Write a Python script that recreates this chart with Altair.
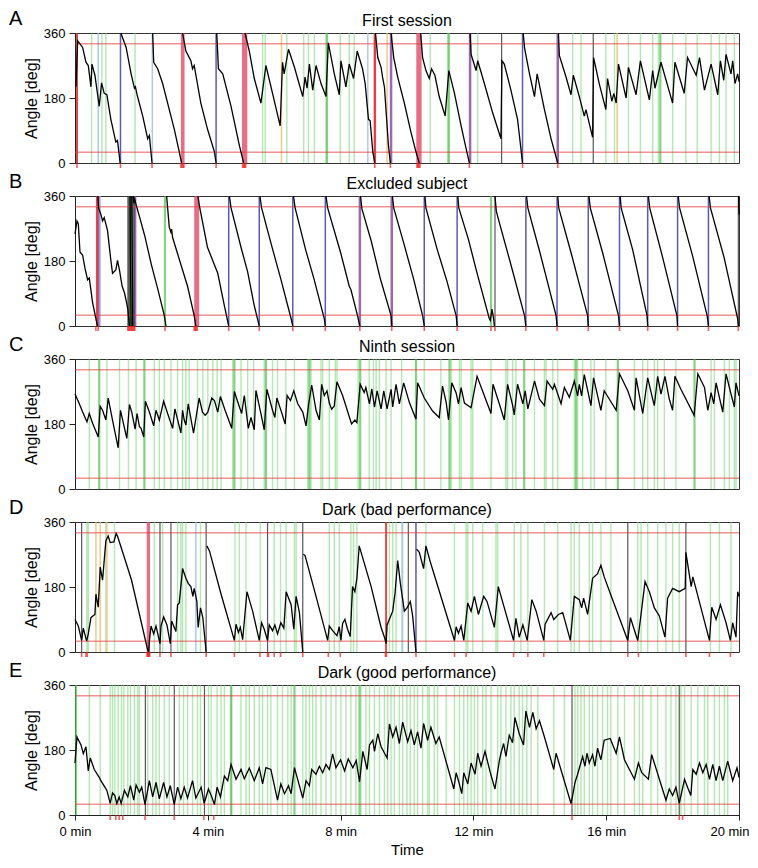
import altair as alt
import pandas as pd

FONT = "Liberation Sans"
W, H = 664, 130
TICKS_MIN = [0, 4, 8, 12, 16, 20]
REF_LEVELS = [30, 330]

# ---------------- Panel A : First session ----------------
A_trace = [
    [(0.03, 211), (0.08, 338), (0.23, 320), (0.33, 279), (0.40, 270), (0.48, 211), (0.51, 274), (0.60, 243),
     (0.73, 157), (0.80, 222), (0.88, 193), (0.96, 189), (1.08, 121), (1.23, 58), (1.28, 62), (1.36, 0)],
    [(1.38, 360), (1.54, 320), (1.69, 247), (1.79, 207), (1.82, 211), (1.87, 189), (2.04, 130), (2.19, 67),
     (2.24, 76), (2.32, 0)],
    [(2.34, 360), (2.37, 279), (2.49, 261), (2.64, 220), (2.79, 166), (2.99, 94), (3.14, 31), (3.21, 0)],
    [(3.24, 360), (3.34, 310), (3.49, 283), (3.54, 261), (3.59, 270), (3.79, 166), (3.99, 94), (4.20, 31), (4.25, 0)],
    [(4.27, 360), (4.32, 261), (4.45, 247), (4.70, 157), (4.95, 49), (5.08, 0)],
    [(5.12, 360), (5.25, 310), (5.40, 234), (5.60, 166), (5.75, 270), (5.95, 193), (6.18, 103), (6.25, 279),
     (6.30, 247), (6.43, 315), (6.61, 265), (6.86, 184), (6.93, 238), (6.99, 207), (7.06, 274), (7.16, 202),
     (7.26, 270), (7.41, 220), (7.56, 184), (7.63, 333), (7.81, 247), (7.96, 189), (8.01, 283), (8.16, 211),
     (8.26, 274), (8.39, 234), (8.50, 310), (8.66, 261), (8.74, 220), (8.84, 121), (8.89, 117), (8.97, 31), (9.03, 0)],
    [(9.05, 360), (9.12, 292), (9.22, 265), (9.27, 234), (9.32, 211), (9.44, 49), (9.50, 0)],
    [(9.52, 360), (9.60, 292), (9.72, 238), (9.92, 166), (10.12, 85), (10.27, 31), (10.37, 0)],
    [(10.41, 360), (10.47, 292), (10.57, 256), (10.67, 234), (10.74, 261), (10.84, 243), (10.97, 184),
     (11.15, 130), (11.26, 256), (11.43, 193), (11.63, 103), (11.78, 40), (11.88, 0)],
    [(11.90, 360), (11.93, 301), (12.08, 256), (12.13, 283), (12.33, 220), (12.58, 139), (12.83, 67),
     (12.86, 283), (12.93, 274), (13.13, 202), (13.33, 121), (13.48, 0)],
    [(13.50, 360), (13.54, 319), (13.69, 247), (13.84, 184), (13.92, 247), (14.14, 148), (14.34, 67), (14.54, 0)],
    [(14.56, 360), (14.59, 297), (14.79, 238), (14.94, 189), (15.01, 243), (15.19, 184), (15.34, 130),
     (15.39, 148), (15.59, 71), (15.62, 292), (15.79, 220), (15.99, 148), (16.04, 234), (16.17, 171),
     (16.23, 193), (16.30, 166), (16.37, 274), (16.60, 180), (16.67, 265), (16.90, 189), (17.03, 283),
     (17.30, 175), (17.40, 256), (17.47, 207), (17.65, 279), (18.00, 166), (18.07, 279), (18.35, 193),
     (18.45, 292), (18.71, 243), (18.81, 292), (18.96, 202), (19.16, 274), (19.36, 189), (19.44, 283),
     (19.54, 229), (19.61, 301), (19.76, 247), (19.81, 283), (19.88, 220), (19.96, 247), (20.0, 225)],
]
A_events = {
    "green": [0.50, 0.81, 0.93, 1.81, 5.65, 5.73, 6.38, 6.89, 7.03, 7.21, 7.56, 7.99, 8.26, 8.41, 10.70,
              11.23, 12.13, 14.99, 15.24, 15.99, 16.25, 16.67, 17.03, 17.40, 17.57, 18.00, 18.40, 18.74,
              19.16, 19.41, 19.61, 19.86],
    "green_strong": [7.59, 11.26, 17.63],
    "lightblue": [0.70, 2.33, 8.82],
    "blue": [1.37, 4.25, 13.48],
    "purple": [9.52, 11.90, 14.54],
    "dark": [12.85, 15.61],
    "orange": [6.22, 9.40, 16.33],
    "red": [0.06, 9.03],
}
A_bands = [(3.19, 3.30, "red"), (5.03, 5.19, "red"), (9.00, 9.07, "red"), (10.28, 10.44, "red")]
A_shocks = [0.06, 1.37, 2.32, 3.19, 3.22, 3.25, 3.28, 4.25, 5.05, 5.08, 5.11, 5.14, 9.03, 9.50,
            10.30, 10.33, 10.36, 10.39, 11.88, 13.48, 14.54]

# ---------------- Panel B : Excluded subject ----------------
B_trace = [
    [(0.00, 255), (0.06, 291), (0.10, 283), (0.15, 205), (0.23, 196), (0.30, 160), (0.38, 128), (0.43, 133),
     (0.53, 65), (0.63, 20), (0.68, 0)],
    [(0.69, 360), (0.71, 327), (0.78, 309), (0.83, 291), (0.88, 300), (0.98, 264), (1.08, 182), (1.13, 146),
     (1.23, 155), (1.28, 182), (1.34, 155), (1.42, 110), (1.49, 92), (1.54, 70), (1.59, 47), (1.62, 20), (1.64, 0)],
    [(1.66, 360), (1.67, 200), (1.69, 0)],
    [(1.71, 360), (1.73, 120), (1.74, 0)],
    [(1.76, 360), (1.77, 340), (1.80, 350), (1.84, 336), (1.95, 300), (2.10, 250), (2.30, 170), (2.50, 100),
     (2.69, 29), (2.74, 0)],
    [(2.76, 360), (2.79, 327), (2.84, 273), (2.89, 260), (2.91, 268), (2.94, 245), (3.09, 200), (3.39, 110),
     (3.59, 29), (3.64, 0)],
    [(3.70, 360), (3.75, 331), (3.99, 218), (4.30, 146), (4.50, 56), (4.63, 0)],
    [(4.65, 360), (4.70, 327), (5.00, 218), (5.20, 150), (5.40, 56), (5.55, 0)],
    [(5.57, 360), (5.62, 327), (5.90, 230), (6.20, 130), (6.51, 20), (6.56, 0)],
    [(6.58, 360), (6.63, 327), (6.95, 210), (7.20, 130), (7.51, 20), (7.54, 0)],
    [(7.56, 360), (7.61, 327), (8.01, 200), (8.26, 110), (8.31, 101), (8.51, 29), (8.58, 0)],
    [(8.60, 360), (8.64, 325), (8.92, 236), (9.20, 130), (9.52, 29), (9.54, 0)],
    [(9.56, 360), (9.60, 327), (9.90, 230), (10.20, 130), (10.47, 29), (10.52, 0)],
    [(10.54, 360), (10.57, 327), (10.90, 215), (11.20, 125), (11.48, 29), (11.51, 0)],
    [(11.53, 360), (11.56, 327), (11.85, 240), (12.10, 150), (12.48, 20), (12.51, 15), (12.56, 47),
     (12.61, 20), (12.63, 0)],
    [(12.65, 360), (12.69, 318), (12.80, 280), (13.10, 180), (13.54, 29), (13.58, 0)],
    [(13.60, 360), (13.64, 327), (14.00, 205), (14.49, 29), (14.52, 0)],
    [(14.54, 360), (14.57, 327), (14.95, 200), (15.44, 29), (15.46, 0)],
    [(15.48, 360), (15.52, 327), (15.90, 200), (16.37, 29), (16.40, 0)],
    [(16.42, 360), (16.45, 327), (16.80, 210), (17.23, 29), (17.25, 0)],
    [(17.27, 360), (17.31, 327), (17.70, 190), (18.13, 29), (18.15, 0)],
    [(18.17, 360), (18.21, 327), (18.60, 195), (19.04, 29), (19.08, 0)],
    [(19.10, 360), (19.14, 327), (19.55, 190), (19.96, 20), (19.98, 0)],
    [(19.99, 360), (20.0, 309)],
]
B_events = {
    "blue": [4.63, 5.55, 6.56, 7.54, 10.52, 11.51, 13.58, 14.52, 15.46, 16.40, 17.25, 18.15, 19.08],
    "purple": [0.70, 1.81, 8.58, 9.54],
    "red": [0.66],
    "dark": [1.60, 1.65, 1.72, 1.78, 12.65, 19.98],
    "green_strong": [1.69, 2.71, 12.53],
}
B_bands = [(0.72, 0.78, "lavender"), (1.58, 1.79, "dark"), (3.59, 3.74, "red")]
B_shocks = [0.63, 0.70, 1.59, 1.62, 1.65, 1.68, 1.71, 1.74, 1.77, 1.80, 2.71, 3.59, 3.62, 3.65, 3.68,
            4.63, 5.55, 6.56, 7.54, 8.58, 9.54, 10.52, 11.51, 12.53, 12.65, 13.58, 14.52, 15.46, 16.40,
            17.25, 18.15, 19.08, 19.98]

# ---------------- Panel C : Ninth session ----------------
C_trace = [[
    (0.00, 263), (0.13, 236), (0.23, 213), (0.36, 186), (0.43, 209), (0.53, 182), (0.70, 144), (0.76, 229),
    (0.83, 218), (0.93, 191), (1.00, 252), (1.13, 191), (1.30, 114), (1.37, 218), (1.47, 177), (1.56, 140),
    (1.64, 234), (1.71, 213), (1.81, 166), (1.87, 209), (1.94, 173), (1.99, 168), (2.07, 144), (2.12, 243),
    (2.24, 213), (2.37, 175), (2.44, 218), (2.54, 191), (2.67, 243), (2.79, 209), (2.94, 168), (3.01, 222),
    (3.19, 155), (3.24, 218), (3.29, 191), (3.34, 177), (3.41, 236), (3.57, 155), (3.74, 252), (3.84, 213),
    (3.92, 204), (4.00, 213), (4.12, 252), (4.20, 245), (4.30, 213), (4.38, 256), (4.52, 218), (4.72, 168),
    (4.80, 270), (4.92, 236), (5.02, 209), (5.10, 259), (5.22, 168), (5.30, 198), (5.40, 164), (5.45, 273),
    (5.60, 209), (5.70, 164), (5.78, 276), (5.95, 218), (6.02, 198), (6.08, 252), (6.22, 213), (6.33, 180),
    (6.39, 259), (6.49, 245), (6.59, 272), (6.71, 236), (6.86, 213), (6.96, 175), (7.03, 231), (7.13, 288),
    (7.26, 218), (7.36, 191), (7.43, 290), (7.51, 259), (7.59, 272), (7.66, 238), (7.73, 221), (7.81, 230),
    (7.89, 297), (8.06, 259), (8.33, 180), (8.43, 191), (8.49, 184), (8.59, 290), (8.71, 267), (8.76, 281),
    (8.87, 236), (8.94, 277), (9.02, 227), (9.10, 272), (9.22, 222), (9.30, 272), (9.40, 222), (9.52, 276),
    (9.57, 227), (9.67, 290), (9.77, 236), (9.90, 294), (10.07, 240), (10.27, 193), (10.32, 294),
    (10.52, 252), (10.77, 216), (10.97, 198), (11.07, 285), (11.18, 240), (11.25, 191), (11.35, 294),
    (11.48, 266), (11.55, 236), (11.63, 281), (11.73, 238), (11.93, 225), (12.11, 312), (12.33, 258),
    (12.53, 209), (12.59, 290), (12.78, 236), (12.93, 191), (13.03, 290), (13.18, 232), (13.23, 205),
    (13.33, 290), (13.49, 236), (13.56, 272), (13.64, 222), (13.84, 299), (13.99, 249), (14.14, 231),
    (14.22, 299), (14.39, 276), (14.44, 290), (14.64, 236), (14.74, 281), (14.89, 254), (15.04, 299),
    (15.14, 258), (15.19, 290), (15.26, 258), (15.34, 317), (15.54, 231), (15.62, 308), (15.84, 218),
    (15.94, 272), (16.30, 218), (16.40, 319), (16.65, 272), (16.85, 218), (16.90, 308), (17.10, 209),
    (17.25, 308), (17.40, 249), (17.45, 231), (17.55, 312), (17.65, 263), (17.77, 312), (17.90, 249),
    (18.00, 218), (18.07, 312), (18.25, 276), (18.65, 204), (18.76, 319), (18.96, 281), (19.06, 218),
    (19.16, 267), (19.24, 236), (19.31, 294), (19.51, 213), (19.61, 319), (19.76, 263), (19.86, 227),
    (19.91, 294), (20.0, 258),
]]
C_events = {
    "green": [0.43, 0.96, 1.34, 1.61, 1.84, 2.39, 2.54, 2.69, 2.89, 3.09, 3.24, 3.34, 3.44, 3.69, 3.85,
              4.00, 4.15, 4.28, 4.40, 4.75, 5.00, 5.20, 5.38, 5.70, 5.95, 6.10, 6.35, 6.61, 7.01, 7.11,
              7.41, 7.46, 7.66, 7.84, 7.89, 8.53, 8.86, 8.99, 9.07, 9.17, 9.37, 9.52, 9.84, 10.52, 11.02,
              11.33, 11.58, 11.63, 11.93, 11.98, 12.53, 12.98, 13.03, 13.18, 13.28, 13.84, 14.14, 14.19,
              14.39, 14.54, 15.04, 15.14, 15.29, 15.54, 15.64, 15.99, 16.85, 17.10, 17.25, 17.45, 17.55,
              17.75, 18.10, 19.16, 19.26, 19.56, 19.71, 19.86, 19.91],
    "green_strong": [0.73, 2.09, 4.80, 5.75, 7.06, 8.59, 10.27, 11.28, 13.53, 15.09, 16.35, 18.66],
}
C_bands = []
C_shocks = []

# ---------------- Panel D : Dark (bad performance) ----------------
D_trace = [
    [(0.00, 90), (0.10, 72), (0.20, 32), (0.25, 66), (0.35, 30), (0.40, 50), (0.48, 95), (0.53, 99),
     (0.60, 104), (0.63, 160), (0.70, 124), (0.76, 235), (0.83, 199), (0.93, 308), (1.00, 321), (1.06, 303),
     (1.17, 305), (1.24, 328), (1.28, 321), (1.70, 200), (2.19, 5), (2.22, 0), (2.24, 30), (2.29, 72),
     (2.37, 50), (2.44, 72), (2.56, 23), (2.59, 72), (2.67, 97), (2.77, 75), (2.87, 23), (2.91, 86),
     (2.99, 68), (3.04, 57), (3.09, 131), (3.14, 136), (3.24, 231), (3.34, 204), (3.41, 190), (3.49, 181),
     (3.55, 154), (3.59, 176), (3.67, 140), (3.71, 68), (3.78, 122), (3.85, 95), (3.95, 0)],
    [(3.97, 294), (4.05, 280), (4.40, 160), (4.80, 32), (4.85, 77), (4.92, 54), (4.98, 68), (5.05, 34),
     (5.10, 86), (5.18, 167), (5.35, 113), (5.55, 32), (5.62, 81), (5.70, 63), (5.80, 32), (5.85, 75),
     (5.95, 59), (6.02, 75), (6.10, 50), (6.20, 81), (6.29, 66), (6.36, 167), (6.51, 131), (6.59, 63),
     (6.66, 154), (6.76, 109), (6.86, 0)],
    [(6.88, 271), (6.93, 267), (7.30, 140), (7.61, 32), (7.66, 72), (7.76, 59), (7.89, 45), (7.96, 70),
     (8.01, 32), (8.06, 79), (8.13, 90), (8.21, 63), (8.29, 43), (8.36, 181), (8.43, 167), (8.49, 204),
     (8.56, 294), (8.92, 181), (9.22, 68), (9.32, 41), (9.37, 23), (9.40, 75), (9.57, 113), (9.64, 163),
     (9.72, 253), (9.80, 190), (9.92, 113), (10.00, 122), (10.10, 140), (10.17, 100), (10.27, 0)],
    [(10.29, 285), (10.37, 276), (10.50, 231), (10.57, 294), (10.70, 250), (11.43, 32), (11.48, 70),
     (11.55, 52), (11.63, 72), (11.71, 32), (11.83, 136), (11.93, 113), (12.03, 154), (12.15, 104),
     (12.31, 154), (12.41, 140), (12.63, 68), (12.75, 181), (13.21, 32), (13.28, 93), (13.38, 41),
     (13.49, 75), (13.62, 32), (13.76, 145), (13.89, 113), (14.12, 32), (14.16, 77), (14.34, 109),
     (14.42, 90), (14.56, 104), (14.69, 109), (14.92, 32), (15.04, 154), (15.19, 145), (15.26, 122),
     (15.32, 149), (15.44, 104), (15.59, 204), (15.74, 217), (15.84, 240), (15.94, 208), (16.14, 158),
     (16.65, 32), (16.73, 95), (16.95, 32), (17.03, 90), (17.17, 195), (17.30, 167), (17.45, 122),
     (17.60, 100), (17.77, 41), (17.85, 149), (18.00, 176), (18.20, 167), (18.38, 176), (18.40, 276),
     (18.56, 181), (18.61, 208), (19.11, 32), (19.18, 124), (19.31, 90), (19.44, 131), (19.61, 81),
     (19.74, 32), (19.81, 81), (19.91, 41), (19.96, 167), (20.0, 154)],
]
D_events = {
    "green": [0.36, 0.40, 0.93, 1.19, 2.39, 2.64, 3.09, 3.19, 3.24, 3.34, 3.78, 4.82, 4.95, 5.15, 5.58,
              6.00, 6.19, 6.36, 6.61, 6.66, 7.66, 7.81, 7.96, 8.31, 8.39, 8.49, 9.47, 9.57, 9.67, 9.87,
              10.57, 11.43, 11.78, 11.83, 11.98, 12.28, 12.68, 12.73, 13.23, 13.43, 13.64, 14.14, 14.54,
              14.94, 15.04, 15.19, 15.49, 15.59, 15.84, 16.14, 16.95, 17.05, 17.25, 17.55, 17.80, 18.00,
              18.20, 19.14, 19.41, 19.76],
    "orange": [0.63, 0.76, 0.96],
    "lightblue": [3.64, 9.85],
    "dark": [0.20, 2.56, 2.89, 3.95, 5.80, 6.86, 10.04, 16.65, 18.40],
    "blue": [10.27],
    "red": [9.37],
}
D_bands = [(2.16, 2.26, "red")]
D_shocks = [0.20, 0.33, 0.37, 2.17, 2.19, 2.21, 2.23, 2.25, 2.56, 2.89, 3.95, 4.80, 5.57, 5.80, 5.83,
            6.00, 6.19, 6.86, 7.63, 7.99, 9.35, 9.38, 10.27, 11.43, 11.78, 13.21, 13.64, 14.12, 16.65,
            16.97, 18.40, 19.11, 19.74]

# ---------------- Panel E : Dark (good performance) ----------------
E_trace = [[
    (0.00, 144), (0.06, 216), (0.18, 194), (0.25, 170), (0.33, 189), (0.40, 122), (0.46, 158), (0.58, 126),
    (0.73, 104), (0.78, 95), (0.90, 77), (0.96, 68), (1.06, 32), (1.13, 61), (1.20, 54), (1.26, 32),
    (1.33, 50), (1.39, 32), (1.49, 68), (1.59, 50), (1.67, 81), (1.77, 41), (1.84, 83), (1.94, 63),
    (2.01, 77), (2.11, 29), (2.24, 95), (2.34, 50), (2.44, 90), (2.54, 45), (2.67, 90), (2.77, 50),
    (2.87, 81), (2.99, 29), (3.09, 77), (3.19, 45), (3.29, 77), (3.39, 47), (3.54, 95), (3.64, 47),
    (3.80, 77), (3.89, 32), (4.02, 72), (4.12, 50), (4.20, 29), (4.28, 77), (4.38, 50), (4.50, 108),
    (4.60, 95), (4.70, 140), (4.85, 99), (5.00, 126), (5.10, 100), (5.25, 130), (5.40, 95), (5.55, 131),
    (5.65, 86), (5.75, 131), (5.90, 126), (6.10, 41), (6.20, 86), (6.31, 59), (6.43, 81), (6.51, 59),
    (6.61, 131), (6.86, 47), (6.96, 95), (7.06, 81), (7.13, 126), (7.26, 113), (7.36, 135), (7.46, 117),
    (7.56, 140), (7.66, 126), (7.76, 169), (7.86, 131), (8.00, 153), (8.12, 122), (8.23, 155), (8.37, 131),
    (8.47, 151), (8.57, 92), (8.67, 176), (8.80, 126), (8.87, 194), (8.97, 207), (9.02, 176), (9.12, 225),
    (9.22, 189), (9.40, 158), (9.47, 252), (9.57, 216), (9.67, 243), (9.77, 198), (9.87, 257), (10.02, 203),
    (10.12, 234), (10.22, 194), (10.32, 230), (10.42, 185), (10.50, 254), (10.62, 207), (10.72, 243),
    (10.87, 198), (10.97, 216), (11.41, 72), (11.48, 117), (11.55, 95), (11.65, 59), (11.71, 117),
    (11.83, 86), (11.93, 144), (12.05, 113), (12.13, 171), (12.23, 135), (12.35, 176), (12.51, 117),
    (12.65, 72), (12.78, 149), (12.83, 171), (12.91, 198), (12.98, 162), (13.08, 221), (13.18, 200),
    (13.25, 270), (13.38, 225), (13.51, 194), (13.58, 288), (13.69, 243), (13.79, 284), (13.89, 239),
    (13.99, 261), (14.14, 216), (14.42, 126), (14.49, 171), (14.94, 32), (14.99, 54), (15.06, 90),
    (15.14, 113), (15.29, 162), (15.36, 135), (15.42, 171), (15.49, 144), (15.59, 167), (15.66, 135),
    (15.74, 185), (15.84, 153), (15.94, 207), (16.12, 212), (16.30, 171), (16.40, 216), (16.55, 153),
    (16.85, 99), (16.97, 144), (17.07, 117), (17.27, 99), (17.37, 167), (17.80, 41), (17.90, 72),
    (18.00, 54), (18.10, 77), (18.20, 32), (18.36, 99), (18.45, 77), (18.55, 54), (18.61, 126),
    (18.71, 113), (18.81, 144), (18.91, 117), (19.01, 140), (19.11, 99), (19.21, 140), (19.31, 95),
    (19.41, 135), (19.51, 95), (19.66, 149), (19.81, 95), (19.94, 131), (20.0, 104),
]]
E_events = {
    "green": [0.43, 0.76, 1.06, 1.13, 1.20, 1.30, 1.40, 1.47, 1.59, 1.67, 1.79, 1.89, 1.94, 2.19, 2.34,
              2.44, 2.54, 2.69, 2.84, 3.14, 3.27, 3.39, 3.54, 3.69, 3.78, 4.02, 4.10, 4.28, 4.40, 4.50,
              4.72, 5.00, 5.15, 5.25, 5.40, 5.55, 5.65, 5.80, 5.90, 6.10, 6.25, 6.41, 6.51, 6.86, 6.96,
              7.06, 7.16, 7.26, 7.41, 7.56, 7.71, 7.86, 8.01, 8.16, 8.31, 8.46, 8.61, 8.76, 8.87, 9.02,
              9.17, 9.32, 9.42, 9.52, 9.62, 9.77, 9.87, 10.00, 10.10, 10.22, 10.32, 10.47, 10.62, 10.67,
              10.82, 10.92, 11.18, 11.43, 11.58, 11.71, 11.83, 11.93, 12.03, 12.13, 12.28, 12.38, 12.53,
              12.73, 12.83, 12.98, 13.13, 13.23, 13.38, 13.48, 13.61, 13.74, 13.94, 14.42, 14.74, 15.06,
              15.14, 15.24, 15.34, 15.49, 15.59, 15.74, 15.89, 16.04, 16.14, 16.35, 16.55, 16.85, 17.00,
              17.10, 17.35, 17.55, 17.80, 17.95, 18.10, 18.25, 18.36, 18.56, 18.76, 18.96, 19.06, 19.26,
              19.41, 19.56, 19.66],
    "green_strong": [0.03, 4.70, 6.61, 8.57],
    "dark": [2.12, 2.99, 3.90, 14.97, 18.20],
}
E_bands = []
E_shocks = [1.06, 1.23, 1.33, 1.44, 2.11, 2.99, 3.88, 4.18, 14.97, 18.20, 18.30]

PANELS = [
    ("A", "First session", A_trace, A_events, A_bands, A_shocks),
    ("B", "Excluded subject", B_trace, B_events, B_bands, B_shocks),
    ("C", "Ninth session", C_trace, C_events, C_bands, C_shocks),
    ("D", "Dark (bad performance)", D_trace, D_events, D_bands, D_shocks),
    ("E", "Dark (good performance)", E_trace, E_events, E_bands, E_shocks),
]

# ---------------- styles ----------------
STYLE = {  # colour, stroke width, opacity
    "green": ("#72d672", 1.4, 0.55),
    "green_strong": ("#4fc04f", 2.2, 0.7),
    "blue": ("#4848ad", 1.5, 0.9),
    "purple": ("#8b4fa0", 2.5, 0.85),
    "lightblue": ("#9cc2e6", 1.5, 0.85),
    "dark": ("#3a3a3a", 1.2, 0.85),
    "orange": ("#f0c078", 1.5, 0.85),
    "red": ("#e23434", 2.0, 0.9),
}
BAND_STYLE = {"red": ("#e04a68", 0.8), "dark": ("#4a4a4a", 0.6), "lavender": ("#a7a7e6", 0.75)}

xs = alt.Scale(domain=[0, 20], nice=False, zero=False)
ys = alt.Scale(domain=[0, 360], nice=False, zero=True)


def events_df(groups):
    rows = []
    for kind, times in groups.items():
        c, w, o = STYLE[kind]
        for t in times:
            rows.append({"t": t, "c": c, "w": w, "o": o})
    return pd.DataFrame(rows)


def bands_df(bands):
    return pd.DataFrame([{"t0": a, "t1": b, "c": BAND_STYLE[k][0], "o": BAND_STYLE[k][1]} for a, b, k in bands])


def trace_df(segs):
    rows, i = [], 0
    for s, seg in enumerate(segs):
        for t, a in seg:
            rows.append({"seg": s, "i": i, "t": t, "a": a})
            i += 1
    return pd.DataFrame(rows)


def panel(letter, title, segs, events, bands, shocks, bottom):
    if bottom:
        xaxis = alt.Axis(
            values=TICKS_MIN, labelExpr="datum.value + ' min'", title="Time", grid=False,
            tickSize=5, labelPadding=5, titlePadding=4, labelFontSize=13, titleFontSize=15,
            titleFontWeight="normal",
            labelAlign={"condition": {"test": "datum.value == 20", "value": "right"}, "value": "center"},
            labelOffset={"condition": {"test": "datum.value == 20", "value": 10}, "value": 0},
        )
    else:
        xaxis = None
    yaxis = alt.Axis(values=[0, 180, 360], title="Angle [deg]", grid=False, tickSize=6, labelPadding=4,
                     titlePadding=4, labelFontSize=13, titleFontSize=16, titleFontWeight="normal")
    layers = []
    if bands:
        layers.append(alt.Chart(bands_df(bands)).mark_rect().encode(
            x=alt.X("t0:Q", scale=xs, axis=xaxis), x2="t1:Q",
            color=alt.Color("c:N", scale=None), opacity=alt.Opacity("o:Q", scale=None)))
    layers.append(alt.Chart(events_df(events)).mark_rule().encode(
        x=alt.X("t:Q", scale=xs, axis=xaxis),
        color=alt.Color("c:N", scale=None),
        strokeWidth=alt.StrokeWidth("w:Q", scale=None),
        opacity=alt.Opacity("o:Q", scale=None)))
    layers.append(alt.Chart(pd.DataFrame({"v": REF_LEVELS})).mark_rule(
        color="#e34040", strokeWidth=1, opacity=0.85).encode(y=alt.Y("v:Q", scale=ys, axis=yaxis)))
    layers.append(alt.Chart(trace_df(segs)).mark_line(color="black", strokeWidth=1.3).encode(
        x=alt.X("t:Q", scale=xs, axis=xaxis), y=alt.Y("a:Q", scale=ys, axis=yaxis),
        detail="seg:N", order="i:Q"))
    if shocks:
        layers.append(alt.Chart(pd.DataFrame({"t": shocks})).mark_tick(
            color="#ee1a1a", thickness=1.6, size=5, orient="vertical").encode(
            x=alt.X("t:Q", scale=xs, axis=xaxis), y=alt.value(H + 2.5)))
    # panel letter and panel title as text marks placed above the plot area
    layers.append(alt.Chart(pd.DataFrame({"L": [letter]})).mark_text(
        fontSize=20, font=FONT, align="left", baseline="alphabetic", color="black").encode(
        text="L:N", x=alt.value(-66), y=alt.value(-8)))
    layers.append(alt.Chart(pd.DataFrame({"T": [title]})).mark_text(
        fontSize=16, font=FONT, align="center", baseline="alphabetic", color="black").encode(
        text="T:N", x=alt.value(W / 2), y=alt.value(-7)))
    return alt.layer(*layers).properties(width=W, height=H)


charts = [panel(*p, bottom=(k == len(PANELS) - 1)) for k, p in enumerate(PANELS)]

chart = alt.vconcat(*charts, spacing=33, bounds="flush").properties(
    padding={"left": 0, "top": 0, "right": 0, "bottom": 0}
).configure_view(stroke="#333333", strokeWidth=1).configure_axis(
    labelFont=FONT, titleFont=FONT, labelColor="black", titleColor="black",
    domainColor="#222222", tickColor="#222222")

chart.save("out.html", embed_options={"renderer": "svg", "actions": False})
